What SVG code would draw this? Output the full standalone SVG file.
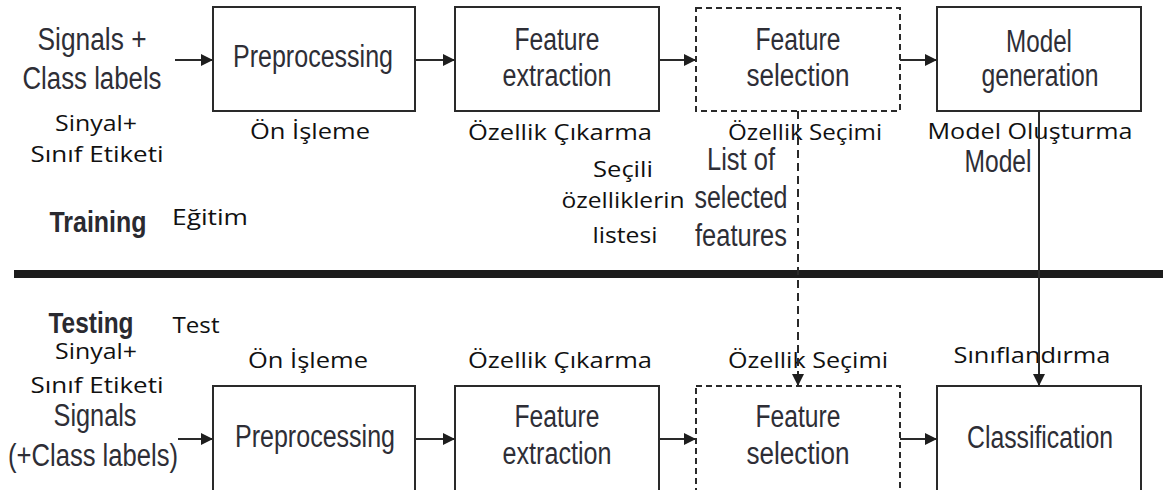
<svg xmlns="http://www.w3.org/2000/svg" width="1163" height="490" viewBox="0 0 1163 490">
  <style>
    .box { fill: #ffffff; stroke: #2a2a2a; stroke-width: 2; }
    .dbox { fill: #ffffff; stroke: #2a2a2a; stroke-width: 2; stroke-dasharray: 6 4; }
    .en { font-family: "Liberation Sans", Arial, sans-serif; font-size: 31px; fill: #2e2e36; text-anchor: middle; }
    .enb { font-family: "Liberation Sans", Arial, sans-serif; font-size: 30px; font-weight: bold; fill: #2a2a30; text-anchor: middle; }
    .tr { font-family: "Open Sans", "Noto Sans", sans-serif; font-size: 21px; fill: #111111; text-anchor: middle; }
    .flow { stroke: #2a2a2a; stroke-width: 2; fill: none; marker-end: url(#arrow); }
  </style>
  <defs>
    <marker id="arrow" viewBox="0 0 10 10" refX="10" refY="5" markerWidth="7" markerHeight="6" orient="auto" markerUnits="strokeWidth">
      <path d="M0,0 L10,5 L0,10 z" fill="#1e1e1e"/>
    </marker>
  </defs>
  <rect width="1163" height="490" fill="#ffffff"/>

  <!-- section divider -->
  <rect x="14" y="270" width="1149" height="8" fill="#1c1c1c"/>

  <!-- training row -->
  <g id="train-input">
    <text class="en" x="92" y="50" textLength="109" lengthAdjust="spacingAndGlyphs">Signals +</text>
    <text class="en" x="92" y="89" textLength="139" lengthAdjust="spacingAndGlyphs">Class labels</text>
    <text class="tr" x="96" y="131" textLength="82" lengthAdjust="spacingAndGlyphs">Sinyal+</text>
    <text class="tr" x="97" y="162" textLength="133" lengthAdjust="spacingAndGlyphs">Sınıf Etiketi</text>
  </g>
  <g id="train-preprocessing">
    <rect class="box" x="213" y="7" width="202" height="104"/>
    <text class="en" x="313" y="67" textLength="160" lengthAdjust="spacingAndGlyphs">Preprocessing</text>
    <text class="tr" x="310" y="139" textLength="120" lengthAdjust="spacingAndGlyphs">Ön İşleme</text>
  </g>
  <g id="train-feature-extraction">
    <rect class="box" x="455" y="7" width="204" height="104"/>
    <text class="en" x="557" y="50" textLength="85" lengthAdjust="spacingAndGlyphs">Feature</text>
    <text class="en" x="557" y="86" textLength="109" lengthAdjust="spacingAndGlyphs">extraction</text>
    <text class="tr" x="560" y="140" textLength="184" lengthAdjust="spacingAndGlyphs">Özellik Çıkarma</text>
  </g>
  <g id="train-feature-selection">
    <rect class="dbox" x="696" y="8" width="204" height="103"/>
    <text class="en" x="798" y="50" textLength="85" lengthAdjust="spacingAndGlyphs">Feature</text>
    <text class="en" x="798" y="86" textLength="103" lengthAdjust="spacingAndGlyphs">selection</text>
    <text class="tr" x="805" y="140" textLength="154" lengthAdjust="spacingAndGlyphs">Özellik Seçimi</text>
  </g>
  <g id="train-model-generation">
    <rect class="box" x="937" y="7" width="204" height="104"/>
    <text class="en" x="1039" y="52" textLength="66" lengthAdjust="spacingAndGlyphs">Model</text>
    <text class="en" x="1040" y="86" textLength="117" lengthAdjust="spacingAndGlyphs">generation</text>
    <text class="tr" x="1030" y="139" textLength="205" lengthAdjust="spacingAndGlyphs">Model Oluşturma</text>
  </g>
  <g id="selected-features-label">
    <text class="en" x="741" y="170" textLength="68" lengthAdjust="spacingAndGlyphs">List of</text>
    <text class="en" x="741" y="208" textLength="93" lengthAdjust="spacingAndGlyphs">selected</text>
    <text class="en" x="741" y="246" textLength="92" lengthAdjust="spacingAndGlyphs">features</text>
    <text class="tr" x="623" y="177" textLength="60" lengthAdjust="spacingAndGlyphs">Seçili</text>
    <text class="tr" x="623" y="208" textLength="123" lengthAdjust="spacingAndGlyphs">özelliklerin</text>
    <text class="tr" x="625" y="243" textLength="65" lengthAdjust="spacingAndGlyphs">listesi</text>
  </g>
  <g id="model-label">
    <text class="en" x="998" y="172" textLength="67" lengthAdjust="spacingAndGlyphs">Model</text>
  </g>
  <g id="training-title">
    <text class="enb" x="98" y="232" textLength="97" lengthAdjust="spacingAndGlyphs">Training</text>
    <text class="tr" x="210" y="225" textLength="76" lengthAdjust="spacingAndGlyphs">Eğitim</text>
  </g>

  <!-- testing row -->
  <g id="testing-title">
    <text class="enb" x="91" y="333" textLength="85" lengthAdjust="spacingAndGlyphs">Testing</text>
    <text class="tr" x="196" y="333" textLength="47" lengthAdjust="spacingAndGlyphs">Test</text>
  </g>
  <g id="test-input">
    <text class="tr" x="96" y="359" textLength="82" lengthAdjust="spacingAndGlyphs">Sinyal+</text>
    <text class="tr" x="97" y="393" textLength="133" lengthAdjust="spacingAndGlyphs">Sınıf Etiketi</text>
    <text class="en" x="95" y="426" textLength="83" lengthAdjust="spacingAndGlyphs">Signals</text>
    <text class="en" x="93" y="466" textLength="170" lengthAdjust="spacingAndGlyphs">(+Class labels)</text>
  </g>
  <g id="test-preprocessing">
    <rect class="box" x="213" y="386" width="202" height="120"/>
    <text class="en" x="315" y="447" textLength="160" lengthAdjust="spacingAndGlyphs">Preprocessing</text>
    <text class="tr" x="308" y="368" textLength="120" lengthAdjust="spacingAndGlyphs">Ön İşleme</text>
  </g>
  <g id="test-feature-extraction">
    <rect class="box" x="455" y="386" width="204" height="120"/>
    <text class="en" x="557" y="427" textLength="85" lengthAdjust="spacingAndGlyphs">Feature</text>
    <text class="en" x="557" y="464" textLength="109" lengthAdjust="spacingAndGlyphs">extraction</text>
    <text class="tr" x="560" y="368" textLength="184" lengthAdjust="spacingAndGlyphs">Özellik Çıkarma</text>
  </g>
  <g id="test-feature-selection">
    <rect class="dbox" x="696" y="386" width="204" height="120"/>
    <text class="en" x="798" y="427" textLength="85" lengthAdjust="spacingAndGlyphs">Feature</text>
    <text class="en" x="798" y="464" textLength="103" lengthAdjust="spacingAndGlyphs">selection</text>
    <text class="tr" x="808" y="368" textLength="160" lengthAdjust="spacingAndGlyphs">Özellik Seçimi</text>
  </g>
  <g id="test-classification">
    <rect class="box" x="937" y="386" width="204" height="120"/>
    <text class="en" x="1040" y="448" textLength="146" lengthAdjust="spacingAndGlyphs">Classification</text>
    <text class="tr" x="1032" y="363" textLength="157" lengthAdjust="spacingAndGlyphs">Sınıflandırma</text>
  </g>

  <!-- connectors -->
  <g id="connectors">
    <line class="flow" x1="175" y1="60" x2="213" y2="60"/>
    <line class="flow" x1="415" y1="60" x2="455" y2="60"/>
    <line class="flow" x1="659" y1="60" x2="696" y2="60"/>
    <line class="flow" x1="900" y1="60" x2="937" y2="60"/>

    <line class="flow" x1="178" y1="439" x2="213" y2="439"/>
    <line class="flow" x1="415" y1="439" x2="455" y2="439"/>
    <line class="flow" x1="659" y1="439" x2="696" y2="439"/>
    <line class="flow" x1="900" y1="439" x2="937" y2="439"/>

    <!-- selected feature list carried down to the test selection step -->
    <line class="flow" x1="798" y1="111" x2="798" y2="386" stroke-dasharray="8 5"/>
    <!-- trained model carried down to classification -->
    <line class="flow" x1="1039" y1="111" x2="1039" y2="386" stroke="#7a7a7a"/>
  </g>
</svg>
